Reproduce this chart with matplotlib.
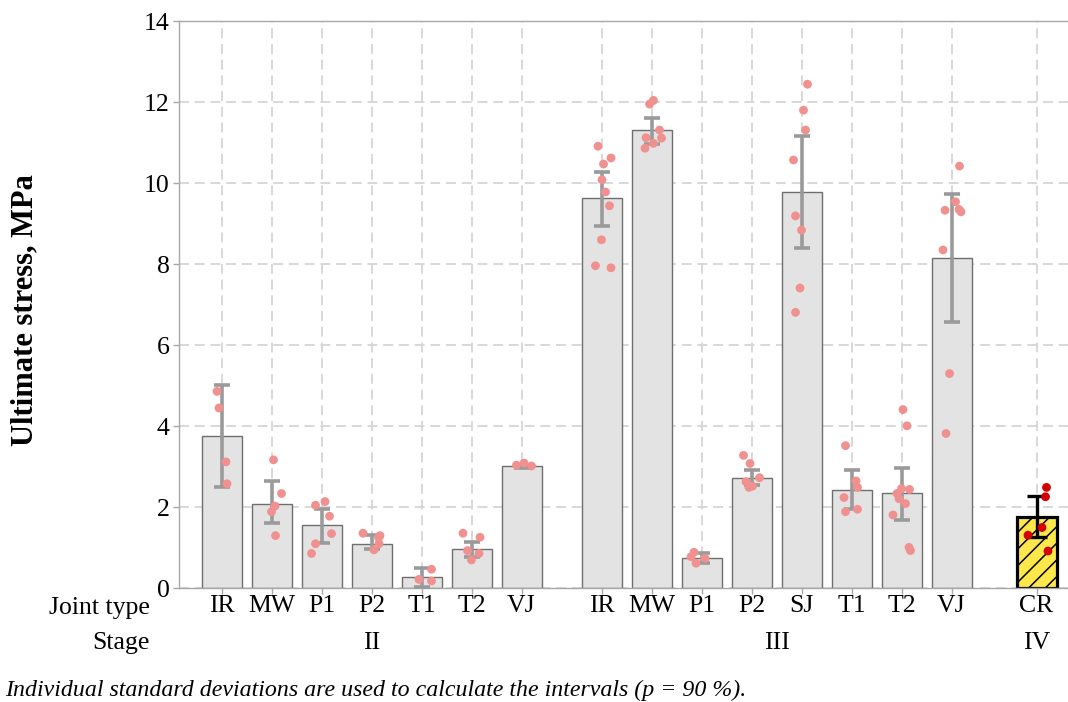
"""
Ultimate stress per joint type and stage: bar = mean, whiskers = 90 % interval,
dots = individual specimens.
"""

import matplotlib
matplotlib.use("Agg")
import matplotlib.pyplot as plt
from matplotlib.transforms import blended_transform_factory

plt.rcParams['font.family'] = ['Liberation Serif', 'DejaVu Serif']
plt.rcParams['hatch.linewidth'] = 1.1

# ---- data ----
stages = ['II', 'III', 'IV']

joints_ii = ['IR', 'MW', 'P1', 'P2', 'T1', 'T2', 'VJ']
mean_ii = [3.76, 2.08, 1.56, 1.10, 0.27, 0.96, 3.02]
low_ii = [2.50, 1.60, 1.11, 0.96, 0.03, 0.77, 2.98]
high_ii = [5.02, 2.64, 1.96, 1.32, 0.51, 1.15, 3.05]
pts_ii = [
    [4.86, 4.45, 3.12, 2.58],
    [3.17, 2.34, 2.03, 1.89, 1.30],
    [2.05, 2.14, 1.78, 1.35, 1.10, 0.86],
    [1.36, 1.30, 1.10, 0.95, 1.25],
    [0.47, 0.22, 0.18],
    [1.36, 1.26, 0.93, 0.86, 0.70],
    [3.04, 3.09, 3.02],
]
jit_ii = [
    [-0.09, -0.05, 0.09, 0.11],
    [0.04, 0.20, 0.07, 0.00, 0.08],
    [-0.12, 0.07, 0.16, 0.20, -0.12, -0.20],
    [-0.17, 0.17, 0.15, 0.05, 0.14],
    [0.20, -0.05, 0.20],
    [-0.17, 0.17, -0.08, 0.15, 0.00],
    [-0.10, 0.05, 0.20],
]

joints_iii = ['IR', 'MW', 'P1', 'P2', 'SJ', 'T1', 'T2', 'VJ']
mean_iii = [9.62, 11.30, 0.75, 2.73, 9.78, 2.43, 2.34, 8.14]
low_iii = [8.95, 10.96, 0.63, 2.54, 8.40, 1.95, 1.68, 6.57]
high_iii = [10.28, 11.60, 0.88, 2.93, 11.15, 2.93, 2.97, 9.73]
pts_iii = [
    [10.91, 10.62, 10.47, 10.08, 9.78, 9.44, 8.60, 7.96, 7.91],
    [12.04, 11.95, 11.31, 11.12, 11.11, 10.98, 10.86],
    [0.89, 0.78, 0.74, 0.62],
    [3.28, 3.08, 2.73, 2.63, 2.52, 2.49],
    [12.44, 11.80, 11.31, 10.57, 9.19, 8.84, 7.41, 6.81],
    [3.52, 2.65, 2.49, 2.24, 1.95, 1.89],
    [4.41, 4.01, 2.44, 2.46, 2.34, 2.21, 2.09, 1.81, 1.01, 0.93],
    [10.42, 9.54, 9.35, 9.33, 9.29, 8.35, 5.30, 3.82],
]
jit_iii = [
    [-0.07, 0.19, 0.04, 0.01, 0.08, 0.16, 0.00, -0.12, 0.19],
    [0.04, -0.04, 0.16, -0.11, 0.20, 0.04, -0.13],
    [-0.15, -0.21, 0.07, -0.11],
    [-0.16, -0.03, 0.16, -0.11, 0.02, -0.05],
    [0.12, 0.04, 0.08, -0.16, -0.12, 0.00, -0.03, -0.12],
    [-0.12, 0.09, 0.12, -0.15, 0.12, -0.12],
    [0.03, 0.11, 0.16, 0.00, -0.09, -0.05, 0.08, -0.17, 0.15, 0.18],
    [0.16, 0.08, 0.15, -0.13, 0.19, -0.17, -0.04, -0.11],
]

joints_iv = ['CR']
mean_iv = [1.75]
low_iv = [1.27]
high_iv = [2.28]
pts_iv = [[2.49, 2.26, 1.50, 1.31, 0.92]]
jit_iv = [[0.20, 0.18, 0.11, -0.17, 0.23]]

# group start positions on the x axis (gaps between stages)
group_start = [0.0, 7.6, 16.3]

W, H = 1068, 702
fig = plt.figure(figsize=(W / 100, H / 100), dpi=100)
ax = fig.add_axes([179.3 / W, 1 - 588.3 / H, 1 - 179.3 / W, (588.3 - 21) / H])

BAR_FC = '#e3e3e3'
BAR_EC = '#6e6e6e'
ERR_C = '#9a9a9a'
PT_C = '#f0908f'

groups = [
    (joints_ii, mean_ii, low_ii, high_ii, pts_ii, jit_ii),
    (joints_iii, mean_iii, low_iii, high_iii, pts_iii, jit_iii),
    (joints_iv, mean_iv, low_iv, high_iv, pts_iv, jit_iv),
]

all_pos, all_labels, stage_centers = [], [], []
for g, (joints, means, lows, highs, pts, jits) in enumerate(groups):
    pos = [group_start[g] + i for i in range(len(joints))]
    all_pos += pos
    all_labels += joints
    stage_centers.append(sum(pos) / len(pos))
    yerr = [[m - lo for m, lo in zip(means, lows)],
            [hi - m for m, hi in zip(means, highs)]]
    last = (g == len(groups) - 1)
    if last:
        ax.bar(pos, means, width=0.8, color='#fde84c', edgecolor='black',
               linewidth=2.3, hatch='//', zorder=2)
        ax.errorbar(pos, means, yerr=yerr, fmt='none', ecolor='black',
                    elinewidth=2.4, capsize=7, capthick=2.4, zorder=3)
        pc = '#d40000'
    else:
        ax.bar(pos, means, width=0.8, color=BAR_FC, edgecolor=BAR_EC,
               linewidth=1.0, zorder=2)
        ax.errorbar(pos, means, yerr=yerr, fmt='none', ecolor=ERR_C,
                    elinewidth=2.6, capsize=6, capthick=2.6, zorder=3)
        pc = PT_C
    for p, vals, jit in zip(pos, pts, jits):
        ax.scatter([p + j for j in jit], vals, s=40, color=pc,
                   edgecolors='none', zorder=4)

ax.set_xlim(-0.844, 16.93)
ax.set_ylim(0, 14)
ax.set_yticks(range(0, 15, 2))
ax.set_xticks(all_pos, all_labels)

ax.grid(True, linestyle=(0, (5.5, 3.2)), color='#d6d6d6', linewidth=1.3,
        zorder=0)
ax.set_axisbelow(True)

for side in ['left', 'top', 'bottom']:
    ax.spines[side].set_color('#a8a8a8')
    ax.spines[side].set_linewidth(1.0)
ax.spines['right'].set_visible(False)

ax.tick_params(axis='both', colors='#a8a8a8', labelcolor='black',
               labelsize=18.5, length=4, width=1.0)
ax.tick_params(axis='x', pad=1)
ax.tick_params(axis='y', pad=3)

ax.set_ylabel('Ultimate stress, MPa', fontsize=22, fontweight='bold',
              va='center')
ax.yaxis.set_label_coords((25 - 179.3) / (W - 179.3), (588.3 - 310) / (588.3 - 21))

# row titles and stage labels under the axis
fig.text(150 / W, 1 - 608 / H, 'Joint type', fontsize=18.5, ha='right', va='center')
fig.text(150 / W, 1 - 643 / H, 'Stage', fontsize=18.5, ha='right', va='center')
trans = blended_transform_factory(ax.transData, fig.transFigure)
for st, xc in zip(stages, stage_centers):
    ax.text(xc, 1 - 643 / H, st, transform=trans, fontsize=18.5,
            ha='center', va='center')

fig.text(5 / W, 1 - 690 / H,
         'Individual standard deviations are used to calculate the intervals (p = 90 %).',
         fontsize=17.2, style='italic', ha='left', va='center')

fig.savefig('out.png', dpi=100)
